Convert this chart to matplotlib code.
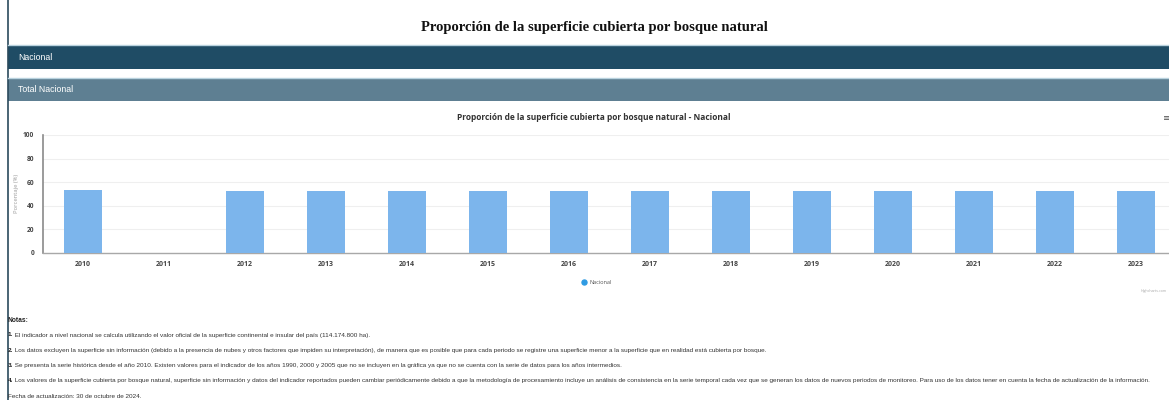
import numpy as np
import matplotlib
matplotlib.use("Agg")
import matplotlib.pyplot as plt
from matplotlib.patches import Rectangle
from matplotlib.lines import Line2D

# ---- data -------------------------------------------------------------
years = ["2010", "2011", "2012", "2013", "2014", "2015", "2016",
         "2017", "2018", "2019", "2020", "2021", "2022", "2023"]
# 2011 has no value
nacional = [53.0, np.nan, 52.6, 52.1, 52.1, 52.3, 52.1,
            52.2, 52.7, 52.7, 52.4, 52.4, 52.2, 52.2]
y_ticks = [0, 20, 40, 60, 80, 100]

page_title = "Proporción de la superficie cubierta por bosque natural"
chart_title = "Proporción de la superficie cubierta por bosque natural - Nacional"
band1_label = "Nacional"
band2_label = "Total Nacional"
series_name = "Nacional"
y_label = "Porcentaje (%)"
notes_header = "Notas:"
notes = [
    ("1.", " El indicador a nivel nacional se calcula utilizando el valor oficial de la superficie continental e insular del país (114.174.800 ha)."),
    ("2.", " Los datos excluyen la superficie sin información (debido a la presencia de nubes y otros factores que impiden su interpretación), de manera que es posible que para cada periodo se registre una superficie menor a la superficie que en realidad está cubierta por bosque."),
    ("3.", " Se presenta la serie histórica desde el año 2010. Existen valores para el indicador de los años 1990, 2000 y 2005 que no se incluyen en la gráfica ya que no se cuenta con la serie de datos para los años intermedios."),
    ("4.", " Los valores de la superficie cubierta por bosque natural, superficie sin información y datos del indicador reportados pueden cambiar periódicamente debido a que la metodología de procesamiento incluye un análisis de consistencia en la serie temporal cada vez que se generan los datos de nuevos periodos de monitoreo. Para uso de los datos tener en cuenta la fecha de actualización de la información."),
]
update_line = "Fecha de actualización: 30 de octubre de 2024."

# ---- page geometry (pixels) -------------------------------------------
W, H = 1169, 400
fig = plt.figure(figsize=(W / 100, H / 100), dpi=100)
fig.patch.set_facecolor("white")


def fx(x):
    return x / W


def fy(y):
    return 1 - y / H


# left page border
fig.add_artist(Line2D([fx(8), fx(8)], [0, 1], color="#2b4a5c", lw=1.2))

# page heading
fig.text(fx(594), fy(27), page_title, ha="center", va="center",
         family="Liberation Serif", weight="bold", fontsize=10.5, color="#111111")

# section bands
for top, bottom, color, label in [(45, 69, "#1f4c65", band1_label),
                                  (78, 101, "#5e7f92", band2_label)]:
    fig.add_artist(Rectangle((fx(8), fy(bottom)), fx(W - 8), (bottom - top) / H,
                             facecolor=color, edgecolor="none"))
    fig.add_artist(Line2D([fx(8), 1], [fy(top), fy(top)], color="#b9d2de", lw=1.0))
    fig.text(fx(18), fy((top + bottom) / 2), label, ha="left", va="center",
             family="Liberation Sans", fontsize=6.3, color="white")

# ---- bar chart ----------------------------------------------------------
step = 81.0
x_left = 42.5
y_zero, y_top = 252.7, 135.0
ax = fig.add_axes([fx(x_left), fy(y_zero), step * len(years) / W, (y_zero - y_top) / H])
ax.set_facecolor("none")

x = np.arange(len(years))
vals = np.array(nacional, dtype=float)
mask = ~np.isnan(vals)
ax.bar(x[mask], vals[mask], width=0.48, color="#7cb5ec", zorder=3)

ax.set_xlim(-0.5, len(years) - 0.5)
ax.set_ylim(0, 100)
ax.set_yticks(y_ticks)
ax.set_yticklabels([str(t) for t in y_ticks], family="Open Sans", weight="bold",
                   fontsize=4.8, color="#444444")
ax.set_xticks(x)
ax.set_xticklabels(years, family="Open Sans", weight="bold", fontsize=5.0, color="#444444")
ax.tick_params(axis="y", length=0, pad=6)
ax.tick_params(axis="x", length=0, pad=6)
ax.grid(axis="y", color="#efefef", lw=0.8, zorder=0)
for s in ["top", "right"]:
    ax.spines[s].set_visible(False)
ax.spines["left"].set_color("#8a8a8a")
ax.spines["left"].set_linewidth(1.2)
ax.spines["bottom"].set_color("#a8a8a8")
ax.spines["bottom"].set_linewidth(1.0)
ax.set_ylabel(y_label, family="Open Sans", fontsize=4.2, color="#9a9a9a", labelpad=3)

# chart title and menu icon
fig.text(fx(594), fy(117.5), chart_title, ha="center", va="center",
         family="Open Sans", weight="bold", fontsize=6.0, color="#333333")
fig.text(fx(1163), fy(118), "≡", ha="left", va="center",
         family="DejaVu Sans", fontsize=7, color="#555555")

# legend
fig.add_artist(Line2D([fx(584)], [fy(282)], marker="o", markersize=3.6,
                      color="#2f9be3", linestyle="none"))
fig.text(fx(590), fy(282), series_name, ha="left", va="center",
         family="Open Sans", fontsize=4, color="#555555")

# credits
fig.text(fx(1167), fy(291), "Highcharts.com", ha="right", va="center",
         family="Open Sans", fontsize=2.6, color="#aaaaaa")

# ---- notes ------------------------------------------------------------
fig.text(fx(8), fy(320), notes_header, ha="left", va="center",
         family="Liberation Sans", weight="bold", fontsize=4.8, color="#222222")
renderer = fig.canvas.get_renderer()
note_size = 4.62
for i, (num, body) in enumerate(notes):
    yy = fy(335 + 15.2 * i)
    t = fig.text(fx(8), yy, num, ha="left", va="center", family="Liberation Sans",
                 weight="bold", fontsize=note_size, color="#222222")
    bb = t.get_window_extent(renderer)
    fig.text(bb.x1 / W, yy, body, ha="left", va="center", family="Liberation Sans",
             fontsize=note_size, color="#333333")
fig.text(fx(8), fy(396), update_line, ha="left", va="center",
         family="Liberation Sans", fontsize=note_size, color="#333333")

fig.savefig("out.png", dpi=100)
